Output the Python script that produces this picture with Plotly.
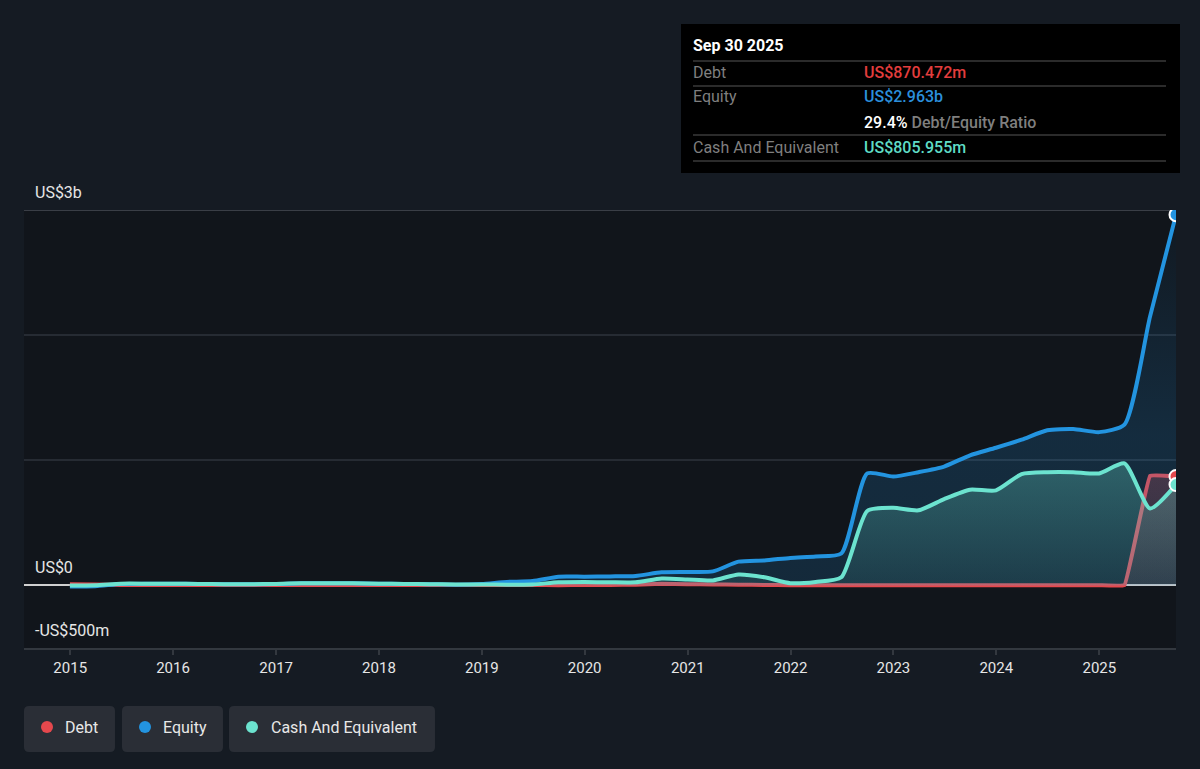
import plotly.graph_objects as go

# ---------------- data (US$ millions) ----------------
dates = [
    "2014-12-31", "2015-03-31", "2015-06-30", "2015-09-30",
    "2015-12-31", "2016-03-31", "2016-06-30", "2016-09-30",
    "2016-12-31", "2017-03-31", "2017-06-30", "2017-09-30",
    "2017-12-31", "2018-03-31", "2018-06-30", "2018-09-30",
    "2018-12-31", "2019-03-31", "2019-06-30", "2019-09-30",
    "2019-12-31", "2020-03-31", "2020-06-30", "2020-09-30",
    "2020-12-31", "2021-03-31", "2021-06-30", "2021-09-30",
    "2021-12-31", "2022-03-31", "2022-06-30", "2022-09-30",
    "2022-12-31", "2023-03-31", "2023-06-30", "2023-09-30",
    "2023-12-31", "2024-03-31", "2024-06-30", "2024-09-30",
    "2024-12-31", "2025-03-31", "2025-06-30", "2025-09-30",
]
equity = [
    -8, -6, 12, 14, 13, 12, 10, 9, 11, 18, 18, 17, 14, 12, 10, 6,
    12, 28, 35, 70, 70, 72, 76, 105, 108, 112, 190, 200, 220, 232, 255, 895,
    870, 905, 950, 1040, 1100, 1165, 1240, 1250, 1225, 1285, 2150, 2963,
]
cash = [
    0, 2, 14, 14, 13, 12, 10, 10, 12, 18, 18, 17, 14, 12, 10, 8,
    8, 6, 8, 25, 27, 25, 25, 55, 48, 40, 88, 65, 18, 28, 65, 595,
    620, 600, 690, 765, 760, 890, 905, 905, 895, 975, 615, 805.955,
]
debt = [
    10, 8, 4, 3, 3, 3, 3, 3, 3, 3, 3, 3, 3, 3, 3, 3,
    3, 3, 3, 2, 3, 4, 6, 14, 10, 8, 6, 4, 2, 2, 2, 2,
    2, 2, 2, 2, 2, 2, 2, 2, 2, 2, 875, 870.472,
]
year_ticks = ["2015-01-01", "2016-01-01", "2017-01-01", "2018-01-01", "2019-01-01",
              "2020-01-01", "2021-01-01", "2022-01-01", "2023-01-01", "2024-01-01",
              "2025-01-01"]
year_labels = ["2015", "2016", "2017", "2018", "2019", "2020", "2021", "2022",
               "2023", "2024", "2025"]
y_gridvals = [0, 1000, 2000, 3000]
y_range = [-500, 3000]
series_names = ["Debt", "Equity", "Cash And Equivalent"]
tooltip_date = "Sep 30 2025"
tooltip_values = ["US$870.472m", "US$2.963b", "US$805.955m"]
ratio_text = "29.4%"

# ---------------- style ----------------
RED = "#e5484d"
BLUE = "#2394e0"
TEAL = "#6ce3cf"
PAPER = "#151b23"
PLOTBG = "#11151b"
FONT = "Roboto"

W, H = 1200, 769
L, R, T, B = 24, 24, 210, 121
PW, PH = W - L - R, H - T - B


def px(x):
    return (x - L) / PW


def py(y):
    return (H - B - y) / PH


def P(x, y):
    return f"{px(x):.5f},{py(y):.5f}"


def rrect(x0, y0, x1, y1, r):
    return (f"M {P(x0 + r, y0)} L {P(x1 - r, y0)} Q {P(x1, y0)} {P(x1, y0 + r)} "
            f"L {P(x1, y1 - r)} Q {P(x1, y1)} {P(x1 - r, y1)} L {P(x0 + r, y1)} "
            f"Q {P(x0, y1)} {P(x0, y1 - r)} L {P(x0, y0 + r)} Q {P(x0, y0)} {P(x0 + r, y0)} Z")


def rgba(hexc, a):
    hexc = hexc.lstrip("#")
    r, g, b = int(hexc[0:2], 16), int(hexc[2:4], 16), int(hexc[4:6], 16)
    return f"rgba({r},{g},{b},{a})"


fig = go.Figure()


def add_series(y, color, grad, smoothing):
    fig.add_trace(go.Scatter(
        x=dates, y=y, mode="lines",
        line=dict(color=color, width=4, shape="spline", smoothing=smoothing),
        fill="tozeroy",
        fillgradient=grad,
        hoverinfo="skip", showlegend=False,
    ))


add_series(debt, RED, dict(type="vertical", start=0, stop=900,
                           colorscale=[[0, rgba(RED, 0.12)], [1, rgba(RED, 0.28)]]), 0.2)
add_series(equity, BLUE, dict(type="vertical", start=0, stop=3000,
                              colorscale=[[0, rgba(BLUE, 0.16)], [0.4, rgba(BLUE, 0.18)],
                                          [1, rgba(BLUE, 0.03)]]), 0.6)
add_series(cash, TEAL, dict(type="vertical", start=0, stop=1000,
                            colorscale=[[0, rgba(TEAL, 0.10)], [1, rgba(TEAL, 0.30)]]), 0.6)

for y, c in [(debt, RED), (equity, BLUE), (cash, TEAL)]:
    fig.add_trace(go.Scatter(
        x=[dates[-1]], y=[y[-1]], mode="markers",
        marker=dict(color=c, size=13, line=dict(color="#ffffff", width=2)),
        hoverinfo="skip", showlegend=False,
    ))

shapes = []
annotations = []

# top gridline (slightly lighter)
shapes.append(dict(type="line", xref="paper", yref="y", x0=0, x1=1, y0=3000, y1=3000,
                   line=dict(color="#3a3e46", width=2), layer="below"))

# y labels
for txt, yv in [("US$3b", 3000), ("US$0", 0), ("-US$500m", -500)]:
    annotations.append(dict(text=txt, xref="paper", yref="y", x=px(33), y=yv,
                            xanchor="left", yanchor="middle", yshift=18, showarrow=False,
                            font=dict(family=FONT, size=16, color="#e6e6e6")))

# legend
legend_boxes = [(24, 115), (122, 223), (229, 435)]
legend_dots = [47, 145, 252]
legend_text_x = [63, 161, 269]
for (bx0, bx1), dx, tx, name, c in zip(legend_boxes, legend_dots, legend_text_x,
                                        series_names, [RED, BLUE, TEAL]):
    shapes.append(dict(type="path", xref="paper", yref="paper",
                       path=rrect(bx0, 706, bx1, 752, 5),
                       fillcolor="#2a2e36", line=dict(width=0)))
    shapes.append(dict(type="circle", xref="paper", yref="paper",
                       x0=px(dx - 6), x1=px(dx + 6), y0=py(733), y1=py(721),
                       fillcolor=c, line=dict(width=0)))
    annotations.append(dict(text=name, xref="paper", yref="paper", x=px(tx), y=py(727),
                            xanchor="left", yanchor="middle", showarrow=False,
                            font=dict(family=FONT, size=16, color="#e8e8e8")))

# tooltip box
shapes.append(dict(type="rect", xref="paper", yref="paper",
                   x0=px(681), x1=px(1180), y0=py(173), y1=py(24),
                   fillcolor="#000000", line=dict(width=0)))
for ly in [61, 86, 135, 161]:
    shapes.append(dict(type="line", xref="paper", yref="paper",
                       x0=px(693), x1=px(1166), y0=py(ly), y1=py(ly),
                       line=dict(color="#3a3a3a", width=1.5)))
annotations.append(dict(text=f"<b>{tooltip_date}</b>", xref="paper", yref="paper",
                        x=px(691), y=py(45), xanchor="left", yanchor="middle",
                        showarrow=False, font=dict(family=FONT, size=16, color="#ffffff")))
rows = [(72, series_names[0], tooltip_values[0], "#e33d3d"),
        (97, series_names[1], tooltip_values[1], "#2b8fdc"),
        (147, series_names[2], tooltip_values[2], "#5fdcc6")]
for ry, lab, val, c in rows:
    annotations.append(dict(text=lab, xref="paper", yref="paper", x=px(691), y=py(ry),
                            xanchor="left", yanchor="middle", showarrow=False,
                            font=dict(family=FONT, size=16, color="#7f7f7f")))
    annotations.append(dict(text=val, xref="paper", yref="paper", x=px(862),
                            y=py(ry), xanchor="left", yanchor="middle", showarrow=False,
                            font=dict(family=FONT, size=16, color=c, weight=500)))
annotations.append(dict(
    text=f"{ratio_text} <span style='color:#7f7f7f'>Debt/Equity Ratio</span>",
    xref="paper", yref="paper", x=px(862), y=py(122), xanchor="left", yanchor="middle",
    showarrow=False, font=dict(family=FONT, size=16, color="#ffffff", weight=500)))

fig.update_layout(
    width=W, height=H,
    margin=dict(l=L, r=R, t=T, b=B, pad=0),
    paper_bgcolor=PAPER, plot_bgcolor=PLOTBG,
    font=dict(family=FONT, size=15, color="#e6e6e6"),
    showlegend=False,
    shapes=shapes, annotations=annotations,
    xaxis=dict(
        type="date", range=["2014-07-21", "2025-09-30"],
        tickvals=year_ticks, ticktext=year_labels,
        showgrid=False, zeroline=False,
        showline=True, linecolor="#33383f", linewidth=2,
        ticks="outside", ticklen=5, tickwidth=1.5, tickcolor="#33383f",
        tickfont=dict(family=FONT, size=15, color="#e6e6e6"),
        fixedrange=True,
    ),
    yaxis=dict(
        range=y_range, tickvals=y_gridvals, showticklabels=False,
        showgrid=True, gridcolor="#262b33", gridwidth=1.5,
        zeroline=True, zerolinecolor="#d0d0d0", zerolinewidth=2,
        showline=False, fixedrange=True,
    ),
)

fig.write_html("out.html")
